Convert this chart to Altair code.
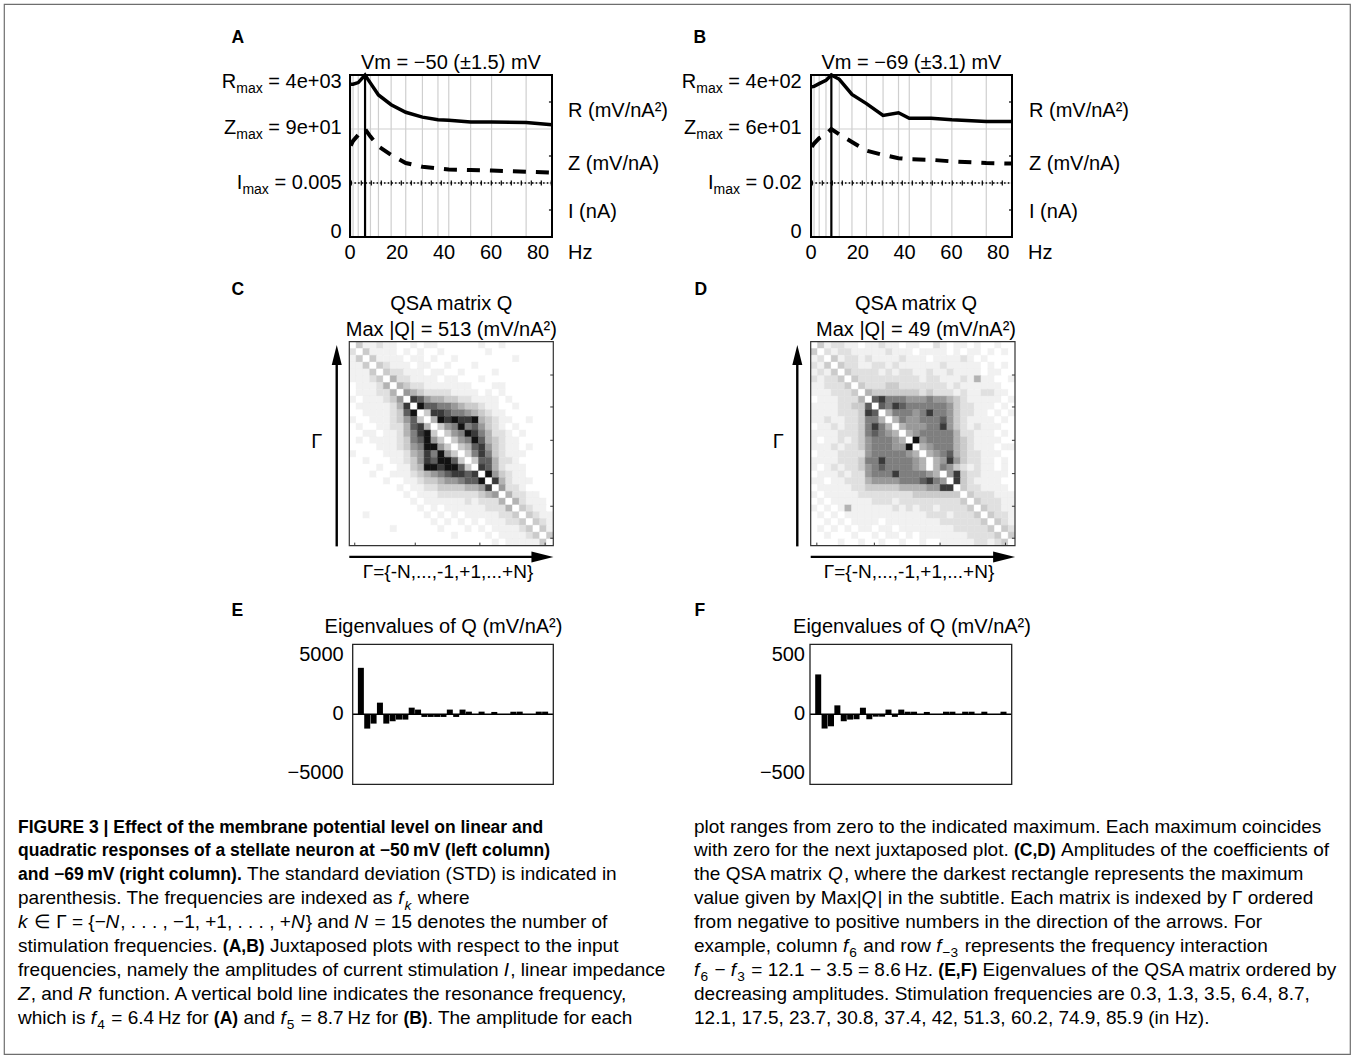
import altair as alt
import pandas as pd

FONT = "Liberation Sans, Arial, Helvetica, sans-serif"
PAD = 4
W, H = 1354 - 2 * PAD, 1058 - 2 * PAD

# ---------------- data ----------------
FREQ = [0.3, 1.3, 3.5, 6.4, 8.7, 12.1, 17.5, 23.7, 30.8, 37.4, 42.0, 51.3, 60.2, 74.9, 85.9]
FREQ_TICKS = [0, 20, 40, 60, 80]

# amplitudes as fraction of the indicated maximum of each juxtaposed plot
R_A = [0.83, 0.83, 0.86, 1.00, 0.85, 0.63, 0.45, 0.31, 0.22, 0.17, 0.16, 0.13, 0.13, 0.12, 0.08]
Z_A = [0.69, 0.78, 0.89, 1.00, 0.86, 0.68, 0.52, 0.37, 0.30, 0.27, 0.25, 0.24, 0.23, 0.21, 0.19]
I_A = [1.0, 1.0, 1.0, 1.0, 1.0, 1.0, 1.0, 1.0, 1.0, 1.0, 1.0, 1.0, 1.0, 1.0, 1.0]
R_B = [0.78, 0.79, 0.84, 0.90, 1.00, 0.92, 0.64, 0.47, 0.25, 0.30, 0.20, 0.20, 0.17, 0.14, 0.14]
Z_B = [0.67, 0.73, 0.83, 0.90, 1.00, 0.90, 0.76, 0.60, 0.52, 0.46, 0.44, 0.43, 0.40, 0.37, 0.36]
I_B = [1.0, 1.0, 1.0, 1.0, 1.0, 1.0, 1.0, 1.0, 1.0, 1.0, 1.0, 1.0, 1.0, 1.0, 1.0]
RES_A, RES_B = 6.4, 8.7

# eigenvalues of Q, ordered by decreasing amplitude
EIG_E = [3950, -1215, -790, 990, -790, -590, -450, -450, 565, 400, -225, -225, -225, -225, 400,
         -225, 400, 225, 0, 225, 0, 200, 0, 0, 225, 225, 0, 0, 225, 225]
EIG_F = [339, -121, -102, 76, -59, -45, -42, 56, -42, -20, -20, 40, -22, 40, 22,
         22, 0, 20, 0, 0, 22, 22, 0, 22, 22, 0, 22, 0, 0, 22]

# |Q| amplitudes, grey level 0 (white) .. 9 (black), rows from top to bottom
Q_C = [
    "031121100101100000010010000000",
    "203111101010010000001000000000",
    "130311110110100100000000100000",
    "113032111011001000100000000000",
    "111303221110110010000100000000",
    "111230422111101100010000000000",
    "011124043221111111000110000000",
    "011122405432222111101010000000",
    "101112350875443322111101000000",
    "011111248097766543321100100000",
    "001111237903887665432110000000",
    "100111235730498988943211001000",
    "010011224784035696753210100000",
    "001101124689303569864221010000",
    "010111123679530356974321100000",
    "000011123569953034785321101000",
    "100001112458695303686321110000",
    "001000112358799730377422100000",
    "000010011349989973087421110000",
    "000100111234567887809532110000",
    "000001001123345567790842111000",
    "000000010112233334458052210000",
    "000000001011122222234504221100",
    "000000000101111112122240421110",
    "000000000010101111112224032110",
    "001000000001010101111122303211",
    "000000000000101010101112230321",
    "000000100000010001010111123031",
    "000000000000000100001011112303",
    "000000000000000000000101111130",
]
Q_D = [
    "031221101121101100210110100100",
    "302122111112111011110101101010",
    "120312212111121110111121010000",
    "213032211221211111121111101010",
    "121303222212122112112111101100",
    "212230322222222212211121411001",
    "112223032223322222221211111100",
    "111222304333333323222121122110",
    "011122240786665556554321111101",
    "111122337076876666665322111010",
    "111122238704666568665322110101",
    "112112236640465566675321111010",
    "011212236864045556685321211100",
    "111122236765404566666422111010",
    "101121235666540956666432111100",
    "111212235666559045666432111011",
    "011122225666665404567432211100",
    "111122236686666540458532211010",
    "101212235676666540465321211010",
    "011121225666866665405832211110",
    "110112224555566678650832111100",
    "011111223333344445588032211110",
    "101111122222222333333303222111",
    "010111111222122222222230322211",
    "101014111111212122122223032211",
    "010101111111111112221222303221",
    "001010111101111111122222230321",
    "010101011011011111111222223032",
    "001000100101101011111112222303",
    "000010010010010010011111221230",
]
LEVELS = [str(k) for k in range(10)]
GREYS = ["#ffffff", "#f1f1f1", "#e0e0e0", "#cbcbcb", "#b3b3b3",
         "#999999", "#7f7f7f", "#5e5e5e", "#3a3a3a", "#121212"]

# ---------------- helpers ----------------
REG = {' ': 278, '!': 278, '(': 333, ')': 333, '*': 389, '+': 584, ',': 278, '-': 333,
       '.': 278, '/': 278, ':': 278, ';': 278, '=': 584, '?': 556,
       'A': 667, 'B': 667, 'C': 722, 'D': 722, 'E': 667, 'F': 611, 'G': 778, 'H': 722,
       'I': 278, 'J': 500, 'K': 667, 'L': 556, 'M': 833, 'N': 722, 'O': 778, 'P': 667,
       'Q': 778, 'R': 722, 'S': 667, 'T': 611, 'U': 722, 'V': 667, 'W': 944, 'X': 667,
       'Y': 667, 'Z': 611, 'a': 556, 'b': 556, 'c': 500, 'd': 556, 'e': 556, 'f': 278,
       'g': 556, 'h': 556, 'i': 222, 'j': 222, 'k': 500, 'l': 222, 'm': 833, 'n': 556,
       'o': 556, 'p': 556, 'q': 556, 'r': 333, 's': 500, 't': 278, 'u': 556, 'v': 500,
       'w': 722, 'x': 500, 'y': 500, 'z': 500, '{': 334, '|': 260, '}': 334,
       '\u2212': 584, '\u2208': 870, '\u0393': 556, '\u00b1': 584, '\u00b2': 333,
       '\u2009': 200}
BOLD = dict(REG)
BOLD.update({'(': 333, ')': 333, '|': 280, 'A': 722, 'B': 722, 'C': 722, 'D': 722,
             'E': 667, 'F': 611, 'G': 778, 'H': 722, 'I': 278, 'M': 833, 'N': 722,
             'O': 778, 'R': 722, 'S': 667, 'T': 611, 'U': 722, 'a': 556,
             'b': 611, 'c': 556, 'd': 611, 'e': 556, 'f': 333, 'g': 611, 'h': 611,
             'i': 278, 'j': 278, 'k': 556, 'l': 278, 'm': 889, 'n': 611, 'o': 611,
             'p': 611, 'q': 611, 'r': 389, 's': 556, 't': 333, 'u': 611, 'v': 556,
             'w': 778, 'x': 556, 'y': 556, 'z': 500})


def textw(s, size, bold=False):
    t = BOLD if bold else REG
    return sum(t.get(c, 556) for c in s) * size / 1000.0


def sc(dom, r0, r1):
    return alt.Scale(domain=list(dom), range=[r0 - PAD, r1 - PAD], zero=False, nice=False)


PX = sc([0, 1354], 0, 1354)
PY = sc([0, 1058], 0, 1058)
layers = []


def ptext(items, size=20, weight='normal', style='normal', align='left', baseline='alphabetic'):
    df = pd.DataFrame(items, columns=['x', 'y', 't'])
    layers.append(alt.Chart(df).mark_text(
        font=FONT, fontSize=size, fontWeight=weight, fontStyle=style, align=align,
        baseline=baseline, color='black').encode(
        x=alt.X('x:Q', scale=PX, axis=None), y=alt.Y('y:Q', scale=PY, axis=None), text='t:N'))


def stext(items, xs, ys, size=20, align='center', baseline='alphabetic', dx=0, dy=0):
    df = pd.DataFrame(items, columns=['x', 'y', 't'])
    layers.append(alt.Chart(df).mark_text(
        font=FONT, fontSize=size, align=align, baseline=baseline, dx=dx, dy=dy,
        color='black').encode(
        x=alt.X('x:Q', scale=xs, axis=None), y=alt.Y('y:Q', scale=ys, axis=None), text='t:N'))


def rules(df, xs, ys, color='black', width=1.0, dash=None):
    kw = dict(color=color, strokeWidth=width)
    if dash:
        kw['strokeDash'] = dash
    layers.append(alt.Chart(df).mark_rule(**kw).encode(
        x=alt.X('x0:Q', scale=xs, axis=None), x2='x1:Q',
        y=alt.Y('y0:Q', scale=ys, axis=None), y2='y1:Q'))


def frame(x0, x1, y0, y1, xs, ys, width=1.5, color='black'):
    df = pd.DataFrame({'x0': [x0], 'x1': [x1], 'y0': [y0], 'y1': [y1]})
    layers.append(alt.Chart(df).mark_rect(fillOpacity=0, stroke=color, strokeWidth=width).encode(
        x=alt.X('x0:Q', scale=xs, axis=None), x2='x1:Q',
        y=alt.Y('y0:Q', scale=ys, axis=None), y2='y1:Q'))


def curve(xv, yv, xs, ys, width=3.5, dash=None):
    df = pd.DataFrame({'f': xv, 'v': yv})
    kw = dict(color='black', strokeWidth=width)
    if dash:
        kw['strokeDash'] = dash
    layers.append(alt.Chart(df).mark_line(**kw).encode(
        x=alt.X('f:Q', scale=xs, axis=None), y=alt.Y('v:Q', scale=ys, axis=None),
        order='f:Q'))


def maxlabel(main, value, end_x, base_y):
    wv = textw(value, 20)
    ws = textw('max', 14)
    wm = textw(main, 20)
    lead = textw(' ', 20)
    ptext([(end_x - wv + lead, base_y, value.strip()), (end_x - wv - wm - ws, base_y, main)], size=20)
    ptext([(end_x - wv - ws, base_y + 5, 'max')], size=14)


# ---------------- panels A and B ----------------
def panel_ab(x0, x1, R, Z, I, res, title, lab, val_end, right_x, letter, letter_x):
    xs = sc([0, 85.9], x0, x1)
    ys = sc([0, 3], 237, 75)
    g = pd.DataFrame({'x0': FREQ[:-1], 'x1': FREQ[:-1], 'y0': [0] * 14, 'y1': [3] * 14})
    rules(g, xs, ys, color='#cfcfcf', width=1.2)
    h = pd.DataFrame({'x0': [0, 0], 'x1': [85.9, 85.9], 'y0': [1, 2], 'y1': [1, 2]})
    rules(h, xs, ys, color='#cfcfcf', width=1.2)
    t = pd.DataFrame({'x0': [85.9] * 3, 'x1': [84.6] * 3, 'y0': [0.5, 1.5, 2.5], 'y1': [0.5, 1.5, 2.5]})
    rules(t, xs, ys, color='black', width=1.2)
    rr = pd.DataFrame({'x0': [res], 'x1': [res], 'y0': [0], 'y1': [3]})
    rules(rr, xs, ys, color='black', width=2.2)
    # I band 0..1, Z band 1..2, R band 2..3
    curve(FREQ, [0 + v for v in I], xs, ys, width=1.3, dash=[1.5, 2.2])
    curve(FREQ, [0 + v for v in I], xs, ys, width=5, dash=[1.2, 8.8])
    curve(FREQ, [1 + v for v in Z], xs, ys, width=4, dash=[13, 10])
    curve(FREQ, [2 + v for v in R], xs, ys, width=3.5)
    frame(0, 85.9, 0, 3, xs, ys, width=2)
    stext([(v, 0, str(v)) for v in FREQ_TICKS], xs, ys, size=20, dy=22)
    stext([(85.9, 0, 'Hz')], xs, ys, size=20, align='left', dx=16, dy=22)
    ptext([((x0 + x1) / 2, 69, title)], size=20, align='center')
    maxlabel('R', ' = ' + lab[0], val_end, 88.3)
    maxlabel('Z', ' = ' + lab[1], val_end, 133.5)
    maxlabel('I', ' = ' + lab[2], val_end, 189)
    ptext([(val_end, 238, '0')], size=20, align='right')
    ptext([(right_x, 116.7, 'R (mV/nA\u00b2)'), (right_x, 169.5, 'Z (mV/nA)'),
           (right_x, 217.5, 'I (nA)')], size=20)
    ptext([(letter_x, 42.7, letter)], size=17.5, weight='bold')


panel_ab(350, 552, R_A, Z_A, I_A, RES_A, 'Vm = \u221250 (\u00b11.5) mV',
         ['4e+03', '9e+01', '0.005'], 341.7, 568, 'A', 231.5)
panel_ab(811, 1012, R_B, Z_B, I_B, RES_B, 'Vm = \u221269 (\u00b13.1) mV',
         ['4e+02', '6e+01', '0.02'], 801.7, 1029, 'B', 693.5)


# ---------------- panels C and D ----------------
def panel_cd(x0, x1, Q, maxq, letter, letter_x, title_x, gamma_x, gl_x, xt, arrow_x):
    xs = sc([0, 30], x0, x1)
    ys = sc([0, 30], 341.7, 545.7)
    rows = []
    for i, line in enumerate(Q):
        for j, ch in enumerate(line):
            rows.append({'c0': j, 'c1': j + 1, 'r0': i, 'r1': i + 1, 'lvl': ch})
    df = pd.DataFrame(rows)
    cs = alt.Scale(domain=LEVELS, range=GREYS)
    layers.append(alt.Chart(df).mark_rect(strokeWidth=0.4).encode(
        x=alt.X('c0:Q', scale=xs, axis=None), x2='c1:Q',
        y=alt.Y('r0:Q', scale=ys, axis=None), y2='r1:Q',
        color=alt.Color('lvl:N', scale=cs, legend=None),
        stroke=alt.Stroke('lvl:N', scale=cs, legend=None)))
    bt = pd.DataFrame({'x0': xt, 'x1': xt, 'y0': [30] * 4, 'y1': [29.55] * 4})
    rules(bt, xs, ys, color='#333333', width=1)
    yt = [4.9, 9.6, 14.5, 19.4, 24.2, 28.9]
    rt = pd.DataFrame({'x0': [30] * 6, 'x1': [29.55] * 6, 'y0': yt, 'y1': yt})
    rules(rt, xs, ys, color='#333333', width=1)
    frame(0, 30, 0, 30, xs, ys, width=1.2, color='#333333')
    # arrows along Gamma
    va = pd.DataFrame({'x0': [arrow_x], 'x1': [arrow_x], 'y0': [30.1], 'y1': [2.4]})
    rules(va, xs, ys, color='black', width=2.4)
    ha = pd.DataFrame({'x0': [0], 'x1': [28.3], 'y0': [31.65], 'y1': [31.65]})
    rules(ha, xs, ys, color='black', width=2.4)
    hv = pd.DataFrame({'x': [arrow_x], 'y': [1.97]})
    layers.append(alt.Chart(hv).mark_point(
        shape='M0,-1L0.5,1L-0.5,1Z', size=400, filled=True, opacity=1, color='black').encode(
        x=alt.X('x:Q', scale=xs, axis=None), y=alt.Y('y:Q', scale=ys, axis=None)))
    hh = pd.DataFrame({'x': [28.4], 'y': [31.65]})
    layers.append(alt.Chart(hh).mark_point(
        shape='M1,0L-1,-0.5L-1,0.5Z', size=484, filled=True, opacity=1, color='black').encode(
        x=alt.X('x:Q', scale=xs, axis=None), y=alt.Y('y:Q', scale=ys, axis=None)))
    ptext([(title_x, 310, 'QSA matrix Q'),
           (title_x, 336, 'Max |Q| = %s (mV/nA\u00b2)' % maxq)], size=20, align='center')
    ptext([(gamma_x, 448.3, '\u0393')], size=20, align='center')
    ptext([(gl_x, 578.3, '\u0393={-N,...,-1,+1,...+N}')], size=19, align='center')
    ptext([(letter_x, 295, letter)], size=17.5, weight='bold')


panel_cd(349.3, 553.3, Q_C, '513', 'C', 231.5, 451.3, 316.7, 448, [0.8, 9.7, 19.2, 28.8], -1.85)
panel_cd(810.7, 1015, Q_D, '49', 'D', 694.5, 916, 778.3, 909, [0.9, 9.35, 19.0, 28.6], -1.97)


# ---------------- panels E and F ----------------
def panel_ef(x0, x1, eig, top, ticks, letter, letter_x, title_x, lab_dx):
    xs = sc([0.5, 30.5], x0, x1)
    ys = sc([-top, top], 784.3, 644.3)
    df = pd.DataFrame({'k': list(range(1, 31)), 'v': eig, 'z': [0] * 30})
    layers.append(alt.Chart(df).mark_bar(size=6, color='black').encode(
        x=alt.X('k:Q', scale=xs, axis=None),
        y=alt.Y('v:Q', scale=ys, axis=None), y2='z:Q'))
    zl = pd.DataFrame({'x0': [0.5], 'x1': [30.5], 'y0': [0], 'y1': [0]})
    rules(zl, xs, ys, color='black', width=1.4)
    frame(0.5, 30.5, -top, top, xs, ys, width=1.3, color='#222222')
    stext([(0.5, v, t) for v, t in ticks], xs, ys, size=20, align='right',
          baseline='middle', dx=lab_dx)
    ptext([(title_x, 633.3, 'Eigenvalues of Q (mV/nA\u00b2)')], size=20, align='center')
    ptext([(letter_x, 615.7, letter)], size=17.5, weight='bold')


panel_ef(352.7, 553.3, EIG_E, 5950, [(5000, '5000'), (0, '0'), (-5000, '\u22125000')],
         'E', 231.5, 443.5, -9)
panel_ef(810, 1011.7, EIG_F, 595, [(500, '500'), (0, '0'), (-500, '\u2212500')],
         'F', 694.5, 912, -5)

# ---------------- caption ----------------
LEFT = [
    [("FIGURE 3 | Effect of the membrane potential level on linear and", "b")],
    [("quadratic responses of a stellate neuron at \u221250\u2009mV (left column)", "b")],
    [("and \u221269\u2009mV (right column).", "b"), (" The standard deviation (STD) is indicated in", "r")],
    [("parenthesis. The frequencies are indexed as ", "r"), ("f", "i"), ("k", "s"), (" where", "r")],
    [("k", "i"), (" \u2208 \u0393 = {\u2212", "r"), ("N", "i"), (", . . . , \u22121, +1, . . . , +", "r"),
     ("N", "i"), ("} and ", "r"), ("N", "i"), (" = 15 denotes the number of", "r")],
    [("stimulation frequencies. ", "r"), ("(A,B)", "b"), (" Juxtaposed plots with respect to the input", "r")],
    [("frequencies, namely the amplitudes of current stimulation ", "r"), ("I", "i"), (", linear impedance", "r")],
    [("Z", "i"), (", and ", "r"), ("R", "i"), (" function. A vertical bold line indicates the resonance frequency,", "r")],
    [("which is ", "r"), ("f", "i"), ("4", "S"), (" = 6.4\u2009Hz for ", "r"), ("(A)", "b"), (" and ", "r"),
     ("f", "i"), ("5", "S"), (" = 8.7\u2009Hz for ", "r"), ("(B)", "b"), (". The amplitude for each", "r")],
]
RIGHT = [
    [("plot ranges from zero to the indicated maximum. Each maximum coincides", "r")],
    [("with zero for the next juxtaposed plot. ", "r"), ("(C,D)", "b"), (" Amplitudes of the coefficients of", "r")],
    [("the QSA matrix ", "r"), ("Q", "i"), (", where the darkest rectangle represents the maximum", "r")],
    [("value given by Max|", "r"), ("Q", "i"), ("| in the subtitle. Each matrix is indexed by \u0393 ordered", "r")],
    [("from negative to positive numbers in the direction of the arrows. For", "r")],
    [("example, column ", "r"), ("f", "i"), ("6", "S"), (" and row ", "r"), ("f", "i"), ("\u22123", "S"),
     (" represents the frequency interaction", "r")],
    [("f", "i"), ("6", "S"), (" \u2212 ", "r"), ("f", "i"), ("3", "S"), (" = 12.1 \u2212 3.5 = 8.6\u2009Hz. ", "r"),
     ("(E,F)", "b"), (" Eigenvalues of the QSA matrix ordered by", "r")],
    [("decreasing amplitudes. Stimulation frequencies are 0.3, 1.3, 3.5, 6.4, 8.7,", "r")],
    [("12.1, 17.5, 23.7, 30.8, 37.4, 42, 51.3, 60.2, 74.9, 85.9 (in Hz).", "r")],
]


def caption(lines, x0, y0, step, size, bsize):
    groups = {'r': [], 'b': [], 'i': [], 's': [], 'S': []}
    for k, line in enumerate(lines):
        x = x0
        y = y0 + k * step
        for text, st in line:
            sub = st in ('s', 'S')
            fs = size * 0.72 if sub else (bsize if st == 'b' else size)
            bold = st == 'b'
            lead = len(text) - len(text.lstrip(' '))
            groups[st].append((x + textw(text[:lead], fs, bold), y + (size * 0.28 if sub else 0), text.strip(' ')))
            x += textw(text, fs, bold) + (size * 0.06 if st in ('i', 's', 'S') else 0)
    style = {'r': (size, 'normal', 'normal'), 'b': (bsize, 'bold', 'normal'),
             'i': (size, 'normal', 'italic'), 's': (size * 0.72, 'normal', 'italic'),
             'S': (size * 0.72, 'normal', 'normal')}
    for st, items in groups.items():
        if items:
            fs, wt, sty = style[st]
            ptext(items, size=fs, weight=wt, style=sty)


caption(LEFT, 18, 832.5, 23.9, 19, 17.5)
caption(RIGHT, 694, 832.5, 23.9, 19, 17.5)

chart = alt.layer(*layers).resolve_scale(x='independent', y='independent').properties(
    width=W, height=H, padding=PAD, autosize=alt.AutoSizeParams(type='none'),
    background='white'
).configure_view(stroke='#6e6e6e', strokeWidth=1.2)

chart.save("out.html", embed_options={"renderer": "svg", "actions": False})
